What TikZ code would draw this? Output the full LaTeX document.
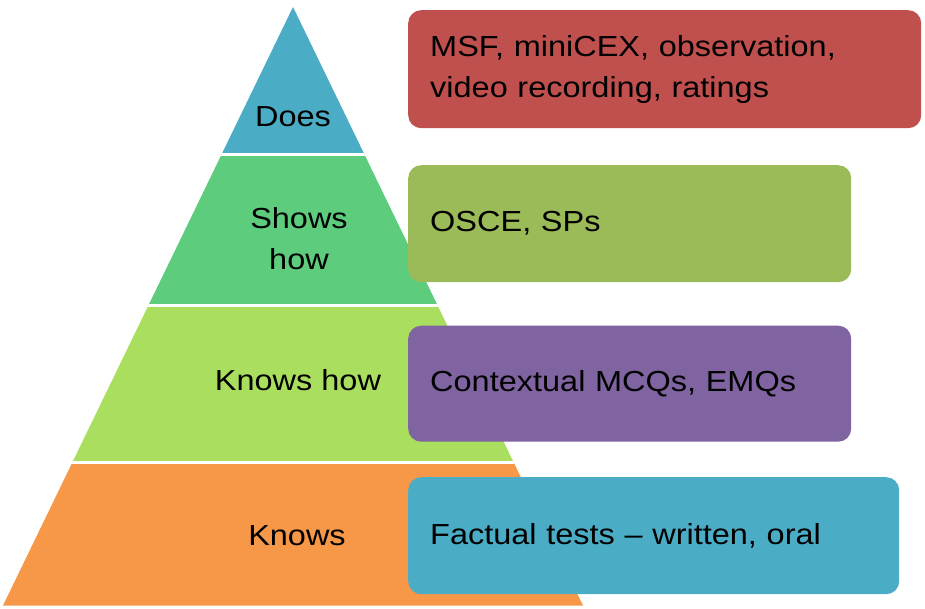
\documentclass[tikz,border=0pt]{standalone}
\usepackage{fontspec}
\setmainfont{Liberation Sans}[FakeStretch=1.12]
\usetikzlibrary{positioning}
\definecolor{doescol}{HTML}{4BACC6}
\definecolor{showscol}{HTML}{5DCC7D}
\definecolor{howcol}{HTML}{A9DE5F}
\definecolor{knowscol}{HTML}{F79849}
\definecolor{redbox}{HTML}{C0504D}
\definecolor{greenbox}{HTML}{9BBB59}
\definecolor{purplebox}{HTML}{8064A2}
\definecolor{bluebox}{HTML}{4BACC6}
\tikzset{
  tag/.style={font=\fontsize{29}{41}\selectfont, align=center, text=black},
  method/.style={font=\fontsize{29}{41}\selectfont, rounded corners=13pt,
    anchor=north west, align=left, inner xsep=22pt, inner ysep=0pt, text=black},
  gap/.style={draw=white, line width=3pt}
}

\begin{document}
\begin{tikzpicture}[x=1pt,y=-1pt]
	\useasboundingbox (0,0) rectangle (925,609);
	%Pyramid
	\coordinate (A) at (293,7);
	\coordinate (BL) at (3,605.5);
	\coordinate (BR) at (583,605.5);
	\begin{scope}
		\clip (A) -- (BL) -- (BR) -- cycle;
		\fill[doescol] (0,0) rectangle (600,154.5);
		\fill[showscol] (0,154.5) rectangle (600,305.5);
		\fill[howcol] (0,305.5) rectangle (600,462);
		\fill[knowscol] (0,462) rectangle (600,610);
		\draw[gap] (0,154.5) -- (600,154.5);
		\draw[gap] (0,305.5) -- (600,305.5);
		\draw[gap] (0,462) -- (600,462);
	\end{scope}
	%Nodes
	\node[tag] (L0) at (293,117) {Does};
	\node[tag] (L1) at (299,239) {Shows\\how};
	\node[tag] (L2) at (298,380) {Knows how};
	\node[tag] (L3) at (297,536) {Knows};
	%Boxes
	\node[method, fill=redbox, text width=469pt, minimum height=118pt] (B0) at (408,10)
		{MSF, miniCEX, observation,\\video recording, ratings};
	\node[method, fill=greenbox, text width=399pt, minimum height=117pt] (B1) at (408,165)
		{OSCE, SPs};
	\node[method, fill=purplebox, text width=399pt, minimum height=116pt] (B2) at (408,325.5)
		{Contextual MCQs, EMQs};
	\node[method, fill=bluebox, text width=447pt, minimum height=117pt] (B3) at (408,477)
		{Factual tests -- written, oral};
\end{tikzpicture}
\end{document}
